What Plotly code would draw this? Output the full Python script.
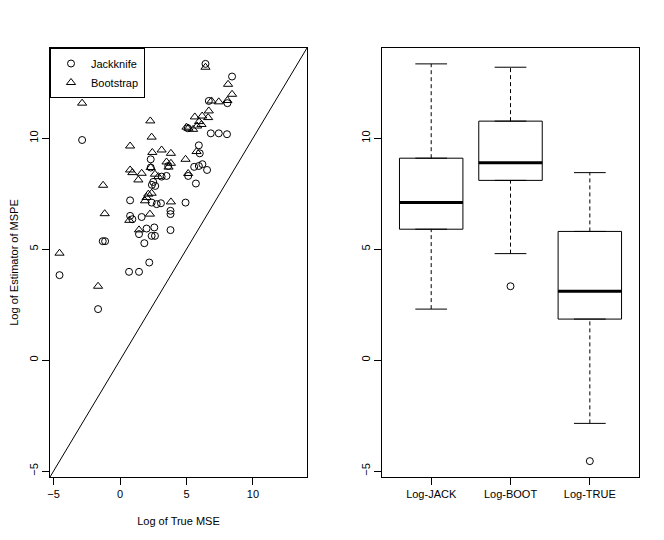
import plotly.graph_objects as go

# Left panel: log true MSE vs log estimator of MSPE
jack_x = [-4.55, -2.85, -1.65, -1.30, -1.12, 0.68, 1.43, 2.20, 1.83, 1.43,
          2.38, 2.63, 2.00, 2.58, 3.80, 0.76, 0.93, 1.63, 3.80, 3.80,
          0.76, 2.38, 2.76, 3.08, 4.93, 2.40, 2.50, 3.13, 3.50, 5.13,
          5.71, 2.31, 3.63, 5.58, 5.93, 6.20, 6.55, 2.31, 5.93, 6.00,
          6.83, 7.43, 8.05, 6.68, 8.08, 8.43, 6.43, 5.10, 2.65]
jack_y = [3.83, 9.92, 2.30, 5.36, 5.36, 3.98, 3.98, 4.40, 5.27, 5.68,
          5.60, 5.60, 5.93, 5.98, 5.86, 6.50, 6.35, 6.45, 6.73, 6.58,
          7.20, 7.10, 7.03, 7.07, 7.10, 7.90, 8.03, 8.27, 8.30, 8.30,
          7.96, 8.68, 8.75, 8.71, 8.75, 8.83, 8.57, 9.05, 9.68, 9.32,
          10.22, 10.22, 10.18, 11.68, 11.58, 12.78, 13.35, 10.45, 7.85]

boot_x = [-4.55, -2.85, -1.65, -1.27, -1.15, 0.70, 1.43, 2.25, 1.88, 2.13,
          2.38, 3.83, 0.76, 0.93, 1.63, 1.38, 2.63, 2.88, 2.31, 3.50,
          3.83, 5.13, 0.76, 2.43, 3.13, 3.83, 4.93, 5.76, 2.38, 2.28,
          5.00, 5.50, 5.80, 6.13, 5.95, 5.63, 6.18, 6.63, 6.68, 6.88,
          7.43, 8.08, 8.43, 8.13, 6.43, 5.15, 3.65, 2.00]
boot_y = [4.82, 11.58, 3.33, 7.88, 6.60, 6.30, 5.87, 6.58, 7.18, 7.48,
          7.52, 7.13, 8.57, 8.45, 8.42, 8.12, 8.38, 8.27, 8.68, 8.93,
          8.87, 8.41, 9.65, 9.36, 9.47, 9.32, 9.05, 9.40, 10.05, 10.78,
          10.50, 10.40, 10.55, 10.62, 10.75, 10.96, 11.00, 10.93, 11.23, 11.68,
          11.64, 11.70, 11.98, 12.43, 13.20, 10.45, 8.70, 7.33]

# Right panel: boxplot statistics
box_labels = ["Log-JACK", "Log-BOOT", "Log-TRUE"]
box_q1 = [5.90, 8.10, 1.85]
box_median = [7.10, 8.90, 3.10]
box_q3 = [9.10, 10.77, 5.80]
box_low = [2.30, 4.80, -2.85]
box_high = [13.35, 13.20, 8.45]
out_pos = [2, 3]
out_y = [3.33, -4.55]

# shared limits like R's range() + 4% extension
all_vals = jack_x + jack_y + boot_y + box_low + box_high + out_y
lo, hi = min(all_vals), max(all_vals)
pad = 0.04 * (hi - lo)
lim = [lo - pad, hi + pad]

font = dict(family="Liberation Sans, Arial, sans-serif", size=11, color="black")
fig = go.Figure()

fig.add_trace(go.Scatter(
    x=jack_x, y=jack_y, mode="markers", name="Jackknife",
    marker=dict(symbol="circle-open", size=7, color="black", line=dict(width=1)),
    xaxis="x", yaxis="y"))
fig.add_trace(go.Scatter(
    x=boot_x, y=boot_y, mode="markers", name="Bootstrap",
    marker=dict(symbol="triangle-up-open", size=8, color="black", line=dict(width=1)),
    xaxis="x", yaxis="y"))

# y = x reference line
fig.add_trace(go.Scatter(x=lim, y=lim, mode="lines", showlegend=False,
                         line=dict(color="black", width=1), xaxis="x", yaxis="y"))

pos = [1, 2, 3]
bw = 0.8
for i, p in enumerate(pos):
    fig.add_trace(go.Box(
        x=[p], q1=[box_q1[i]], median=[box_median[i]], q3=[box_q3[i]],
        lowerfence=[box_q1[i]], upperfence=[box_q3[i]], width=bw,
        fillcolor="white", line=dict(color="black", width=1),
        showlegend=False, hoverinfo="skip", xaxis="x2", yaxis="y2"))
    # dashed whiskers
    fig.add_trace(go.Scatter(
        x=[p, p, None, p, p], y=[box_low[i], box_q1[i], None, box_q3[i], box_high[i]],
        mode="lines", line=dict(color="black", width=1, dash="4px,3px"),
        showlegend=False, xaxis="x2", yaxis="y2"))
    # staples
    fig.add_trace(go.Scatter(
        x=[p - bw / 4, p + bw / 4, None, p - bw / 4, p + bw / 4],
        y=[box_low[i], box_low[i], None, box_high[i], box_high[i]],
        mode="lines", line=dict(color="black", width=1),
        showlegend=False, xaxis="x2", yaxis="y2"))
    # thick median
    fig.add_trace(go.Scatter(
        x=[p - bw / 2, p + bw / 2], y=[box_median[i], box_median[i]],
        mode="lines", line=dict(color="black", width=3),
        showlegend=False, xaxis="x2", yaxis="y2"))

fig.add_trace(go.Scatter(
    x=out_pos, y=out_y, mode="markers", showlegend=False,
    marker=dict(symbol="circle-open", size=7, color="black", line=dict(width=1)),
    xaxis="x2", yaxis="y2"))

ax = dict(showline=True, linecolor="black", linewidth=1, mirror=True,
          ticks="outside", ticklen=7, tickcolor="black", showgrid=False,
          zeroline=False, tickfont=font, automargin=False)
ticks = [-5, 0, 5, 10]

# page body adds 8px, so the figure is shifted up/left by that amount
fig.update_layout(
    width=656, height=532,
    margin=dict(l=42, r=25, t=40, b=63),
    paper_bgcolor="white", plot_bgcolor="white",
    font=font,
    xaxis=dict(ax, domain=[0, 0.4363], range=lim, tickvals=ticks,
               title=dict(text="Log of True MSE", font=font, standoff=18)),
    yaxis=dict(ax, range=lim, tickvals=ticks, tickangle=-90,
               title=dict(text="Log of Estimator of MSPE", font=font, standoff=9)),
    xaxis2=dict(ax, domain=[0.5637, 1], range=[0.38, 3.62], tickvals=pos,
                ticktext=box_labels, anchor="y2"),
    yaxis2=dict(ax, range=lim, tickvals=ticks, tickangle=-90, anchor="x2"),
    legend=dict(x=0, y=1, xanchor="left", yanchor="top", bgcolor="white",
                bordercolor="black", borderwidth=1, font=font,
                itemwidth=30, tracegroupgap=0),
    showlegend=True,
)

fig.write_html("out.html")
